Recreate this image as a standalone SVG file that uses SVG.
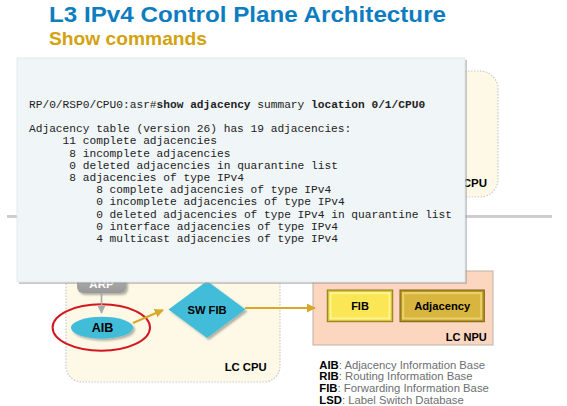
<svg xmlns="http://www.w3.org/2000/svg" width="567" height="406" viewBox="0 0 567 406">
<style>
.sans{font-family:"Liberation Sans",Arial,sans-serif}
.b{font-weight:bold}
.mono{font-family:"Liberation Mono","Courier New",monospace;font-size:11.2px;fill:#222}
.lbl{font-family:"Liberation Sans",Arial,sans-serif;font-weight:bold;fill:#000}
.leg{font-family:"Liberation Sans",Arial,sans-serif;font-size:11.3px;fill:#6d6e71}
.leg tspan.k{font-weight:bold;fill:#000}
.cpu{fill:#fdf9e6;stroke:#c9c9c9;stroke-width:1.2;stroke-dasharray:1.5 1.5}
.cyan{fill:#42bdd9}
</style>
<defs>
<marker id="goldArrow" viewBox="0 0 10 10" refX="9" refY="5" markerWidth="4.5" markerHeight="4.5" orient="auto" markerUnits="strokeWidth">
<path d="M0,0 L10,5 L0,10 z" fill="#d9a82a"/>
</marker>
<marker id="greyArrow" viewBox="0 0 10 10" refX="9" refY="5" markerWidth="5" markerHeight="5" orient="auto" markerUnits="strokeWidth">
<path d="M0,0 L10,5 L0,10 z" fill="#a8a8a8"/>
</marker>
<linearGradient id="arpG" x1="0" y1="0" x2="0" y2="1">
<stop offset="0" stop-color="#c4c4c4"/>
<stop offset="1" stop-color="#989898"/>
</linearGradient>
<filter id="shadow" x="-20%" y="-20%" width="150%" height="150%">
<feDropShadow dx="2" dy="2" stdDeviation="1.2" flood-color="#000" flood-opacity="0.3"/>
</filter>
</defs>

<g id="title">
<text class="sans b" x="49" y="22" font-size="22.5" fill="#0e7dbf" textLength="397" lengthAdjust="spacingAndGlyphs">L3 IPv4 Control Plane Architecture</text>
<text class="sans b" x="49" y="45" font-size="18.6" fill="#d4a20e" textLength="158" lengthAdjust="spacingAndGlyphs">Show commands</text>
</g>

<g id="rp-cpu">
<rect class="cpu" x="300" y="71" width="198" height="126" rx="18"/>
<text class="lbl" x="487" y="186.5" font-size="11.5" text-anchor="end">CPU</text>
</g>

<g id="separator">
<line x1="7" y1="216" x2="552" y2="216" stroke="#9a9a9a" stroke-width="1"/>
<line x1="7" y1="217.5" x2="552" y2="217.5" stroke="#cfcfcf" stroke-width="1"/>
</g>

<g id="lc-cpu">
<rect class="cpu" x="66" y="240" width="214" height="142" rx="16"/>
<text class="lbl" x="266.7" y="371" font-size="11.3" text-anchor="end">LC CPU</text>
</g>

<g id="arp">
<rect x="77" y="262" width="49" height="31" rx="6" fill="url(#arpG)" filter="url(#shadow)"/>
<text class="lbl" x="101.5" y="288" font-size="11.5" text-anchor="middle" fill="#fff" style="fill:#fff">ARP</text>
</g>

<g id="lc-npu">
<rect x="313" y="271" width="180" height="74" fill="#fcd6bf" stroke="#bdb0a8" stroke-width="1"/>
<text class="lbl" x="486.7" y="340.7" font-size="11" text-anchor="end">LC NPU</text>
</g>

<g id="fib">
<rect x="327.3" y="290" width="65.4" height="31.7" fill="#d9c23a" stroke="#8a7a22" stroke-width="1"/>
<rect x="329.3" y="292" width="61.4" height="27.7" fill="#fff58a"/>
<rect x="331.5" y="294.2" width="57" height="23.3" fill="#fbe656"/>
<text class="lbl" x="360" y="309.5" font-size="11" text-anchor="middle">FIB</text>
</g>

<g id="adjacency">
<rect x="400" y="290" width="84.3" height="31.7" fill="#b8951e" stroke="#76621a" stroke-width="1"/>
<rect x="402" y="292" width="80.3" height="27.7" fill="#ead06a"/>
<rect x="404.2" y="294.2" width="75.9" height="23.3" fill="#d8b53e"/>
<text class="lbl" x="442.2" y="309.5" font-size="11.2" text-anchor="middle">Adjacency</text>
</g>

<g id="aib">
<ellipse class="cyan" cx="102" cy="327.7" rx="31" ry="11" filter="url(#shadow)"/>
<text class="lbl" x="102.5" y="331.7" font-size="12.6" text-anchor="middle">AIB</text>
</g>

<g id="aib-highlight">
<ellipse cx="101.3" cy="327.5" rx="48.7" ry="23.2" fill="none" stroke="#d4171e" stroke-width="2"/>
</g>

<g id="sw-fib">
<polygon class="cyan" points="207,281 245.5,309.5 207,338 168.5,309.5" filter="url(#shadow)"/>
<text class="lbl" x="207" y="314" font-size="11.2" text-anchor="middle">SW FIB</text>
</g>

<g id="connectors">
<line x1="101.5" y1="293" x2="101.5" y2="313" stroke="#a8a8a8" stroke-width="1.6" marker-end="url(#greyArrow)"/>
<line x1="133" y1="323" x2="163" y2="310" stroke="#d9a82a" stroke-width="2" marker-end="url(#goldArrow)"/>
<line x1="245" y1="308" x2="315" y2="308" stroke="#d9a82a" stroke-width="2" marker-end="url(#goldArrow)"/>
</g>

<g id="legend">
<text class="leg" x="319.3" y="368.5"><tspan class="k">AIB</tspan>: Adjacency Information Base</text>
<text class="leg" x="319.3" y="380.3"><tspan class="k">RIB</tspan>: Routing Information Base</text>
<text class="leg" x="319.3" y="392"><tspan class="k">FIB</tspan>: Forwarding Information Base</text>
<text class="leg" x="319.3" y="403.7"><tspan class="k">LSD</tspan>: Label Switch Database</text>
</g>

<g id="popup">
<rect x="19" y="60" width="448" height="224" fill="#9a9a9a" opacity="0.55"/>
<rect x="17" y="58" width="448" height="224" fill="#f0f5f8" stroke="#dfe4e7" stroke-width="0.8"/>
<text class="mono" x="29" y="108">RP/0/RSP0/CPU0:asr#<tspan font-weight="bold">show adjacency</tspan> summary <tspan font-weight="bold">location 0/1/CPU0</tspan></text>
<text class="mono" x="29" y="132">Adjacency table (version 26) has 19 adjacencies:</text>
<text class="mono" x="62.6" y="144.3">11 complete adjacencies</text>
<text class="mono" x="69.3" y="156.5">8 incomplete adjacencies</text>
<text class="mono" x="69.3" y="168.7">0 deleted adjacencies in quarantine list</text>
<text class="mono" x="69.3" y="180.9">8 adjacencies of type IPv4</text>
<text class="mono" x="96.2" y="193.1">8 complete adjacencies of type IPv4</text>
<text class="mono" x="96.2" y="205.3">0 incomplete adjacencies of type IPv4</text>
<text class="mono" x="96.2" y="217.5">0 deleted adjacencies of type IPv4 in quarantine list</text>
<text class="mono" x="96.2" y="229.7">0 interface adjacencies of type IPv4</text>
<text class="mono" x="96.2" y="241.9">4 multicast adjacencies of type IPv4</text>
</g>
</svg>
